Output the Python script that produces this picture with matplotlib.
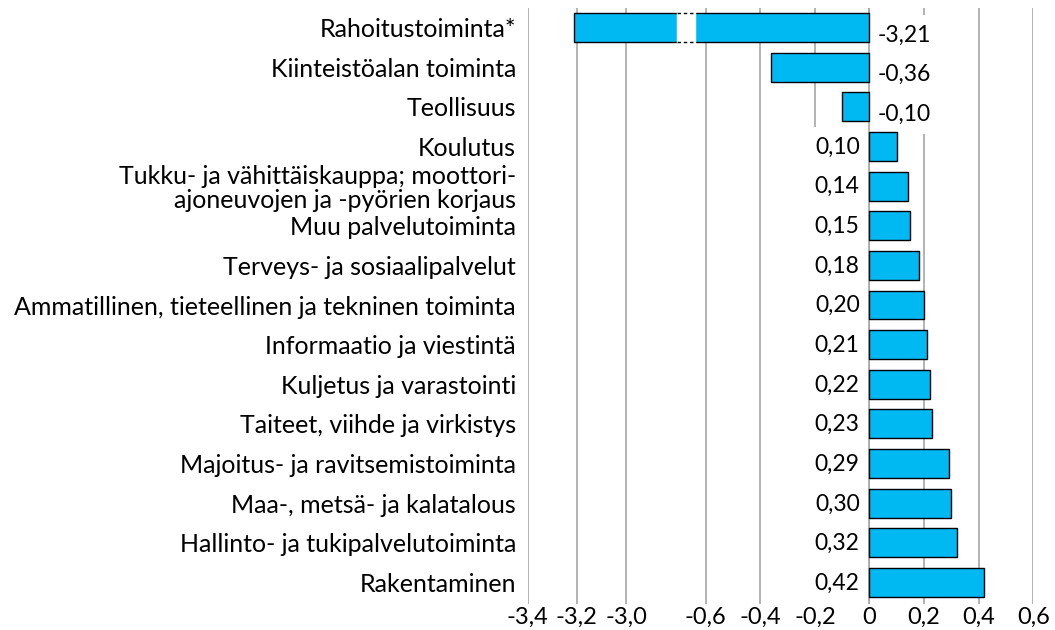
import matplotlib
matplotlib.use('Agg')
import matplotlib.pyplot as plt
import numpy as np

# data
categories = ['Rahoitustoiminta*', 'Kiinteistöalan toiminta', 'Teollisuus', 'Koulutus',
              'Tukku- ja vähittäiskauppa; moottori-\najoneuvojen ja -pyörien korjaus',
              'Muu palvelutoiminta', 'Terveys- ja sosiaalipalvelut',
              'Ammatillinen, tieteellinen ja tekninen toiminta', 'Informaatio ja viestintä',
              'Kuljetus ja varastointi', 'Taiteet, viihde ja virkistys',
              'Majoitus- ja ravitsemistoiminta', 'Maa-, metsä- ja kalatalous',
              'Hallinto- ja tukipalvelutoiminta', 'Rakentaminen']
values = [-3.21, -0.36, -0.10, 0.10, 0.14, 0.15, 0.18, 0.20, 0.21, 0.22, 0.23, 0.29, 0.30, 0.32, 0.42]
tick_values = [-3.4, -3.2, -3.0, -0.6, -0.4, -0.2, 0, 0.2, 0.4, 0.6]

# broken axis: the segment below -1 is drawn compressed and shifted right
def to_disp(v):
    if v < -1:
        return -0.892 + (v + 3.0) * 0.9
    return v

def fmt(v):
    return f'{v:.2f}'.replace('.', ',')

def fmt_tick(v):
    if v == 0:
        return '0'
    return f'{v:.1f}'.replace('.', ',')

plt.rcParams['font.family'] = ['Lato', 'DejaVu Sans']

fig = plt.figure(figsize=(10.55, 6.3), dpi=100)
ax = fig.add_axes([527.7 / 1055, 1 - 604 / 630, 505.6 / 1055, 596 / 630])

y = np.arange(len(categories))
disp = [to_disp(v) for v in values]
bh = 0.73
ax.barh(y, disp, height=bh, color='#00B9F2', edgecolor='black', linewidth=1, zorder=3)

# break in the first bar
x0, x1 = -0.705, -0.639
ax.fill_between([x0, x1], -bh / 2 - 0.02, bh / 2 + 0.02, color='white', zorder=4)
ax.plot([x0, x1], [-bh / 2, -bh / 2], color='black', lw=1, ls=(0, (2.5, 2)), zorder=5)
ax.plot([x0, x1], [bh / 2, bh / 2], color='black', lw=1, ls=(0, (2.5, 2)), zorder=5)

# value labels with white boxes (they hide the gridlines behind them)
for yi, v in zip(y, values):
    if v < 0:
        ax.text(0.03, yi + 0.19, fmt(v), ha='left', va='center', fontsize=16.5, zorder=2,
                bbox=dict(facecolor='white', edgecolor='none', pad=7))
    else:
        ax.text(-0.036, yi + 0.02, fmt(v), ha='right', va='center', fontsize=16.5, zorder=2,
                bbox=dict(facecolor='white', edgecolor='none', pad=7))
# zero line stays visible next to the labels
ax.axvline(0, color='#A6A6A6', lw=1.2, zorder=2.5)

ax.set_xlim(to_disp(-3.4), 0.6)
ax.set_ylim(len(categories) - 0.46, -0.49)
ax.set_xticks([to_disp(t) for t in tick_values])
ax.set_xticklabels([fmt_tick(t) for t in tick_values], fontsize=17)
ax.set_yticks(y)
ax.set_yticklabels(categories, fontsize=18, linespacing=1.05)
ax.tick_params(axis='y', length=0, pad=8.5)
ax.tick_params(axis='x', length=0, pad=2)
ax.grid(axis='x', color='#A6A6A6', lw=1.2, zorder=0)
for s in ax.spines.values():
    s.set_visible(False)

fig.savefig('out.png', dpi=100)
